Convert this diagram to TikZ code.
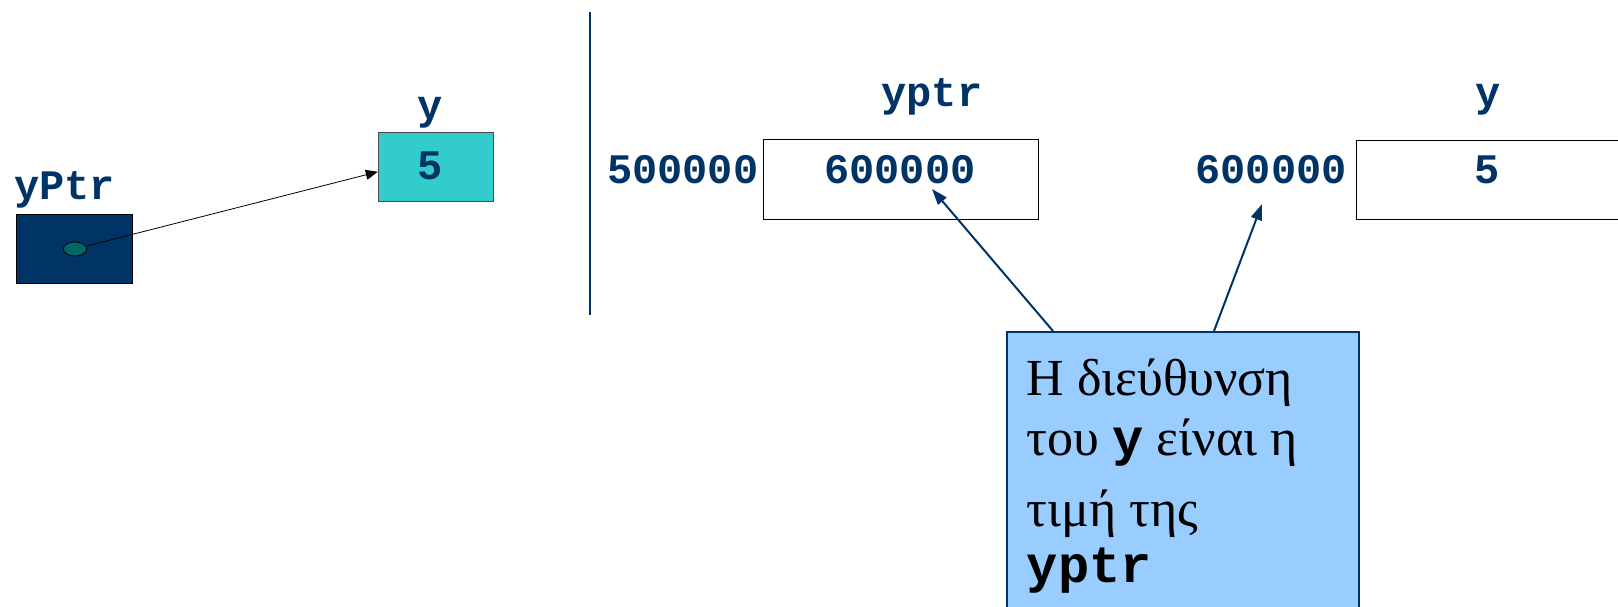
\documentclass[tikz,border=0pt]{standalone}
\usepackage{fontspec}
\setmainfont{Liberation Serif}
\setmonofont{Liberation Mono}
\usetikzlibrary{arrows.meta,shapes.geometric}
\definecolor{navy}{HTML}{003366}
\definecolor{tealdot}{HTML}{006666}
\definecolor{cyanbox}{HTML}{33CCCC}
\definecolor{callfill}{HTML}{99CCFF}
\begin{document}
\begin{tikzpicture}[x=1pt,y=-1pt,
  lab/.style={font=\fontsize{42}{50}\selectfont\ttfamily\bfseries, text=navy, inner sep=0pt},
  membox/.style={draw=black, fill=white, line width=1pt, inner sep=0pt, minimum height=79.8pt},
  navyarrow/.style={draw=navy, line width=2pt, -{Triangle[length=16pt,width=11pt]}},
  blackarrow/.style={draw=black, line width=0.8pt, -{Triangle[length=12pt,width=10pt]}}]
\clip (0,0) rectangle (1618,606);
% left part
\node[draw=black, fill=navy, line width=1pt, minimum width=116pt, minimum height=69pt, inner sep=0pt] (pbox) at (74.7,248.8) {};
\node[lab, anchor=base west] (lyPtr) at (14,199) {yPtr};
\node[draw=black!70, fill=cyanbox, line width=1pt, minimum width=115.4pt, minimum height=69pt, inner sep=0pt] (ybox) at (436,166.8) {};
\node[lab, anchor=base] (yval) at (430,179) {5};
\node[lab, anchor=base] (ylab) at (430,119) {y};
\node[draw=black, fill=tealdot, ellipse, line width=0.8pt, minimum width=23.4pt, minimum height=14pt, inner sep=0pt] (dot) at (75,249) {};
\draw[blackarrow] (dot) -- ([yshift=-5pt]ybox.west);
% divider
\coordinate (d1) at (590,12);
\coordinate (d2) at (590,315);
\draw[navy, line width=2pt] (d1) -- (d2);
% memory boxes
\node[membox, minimum width=274.5pt] (pmem) at (900.75,179.4) {};
\node[lab, anchor=base] (pval) at (900,183) {600000};
\node[lab, anchor=base east] (paddr) at (758.5,183) {500000};
\node[lab, anchor=base] (plab) at (932,106) {yptr};
\node[membox, minimum width=300pt, anchor=north west] (ymem) at (1356,139.5) {};
\node[lab, anchor=base] (ymval) at (1487,183) {5};
\node[lab, anchor=base east] (yaddr) at (1347,183) {600000};
\node[lab, anchor=base] (ymlab) at (1488,106) {y};
% callout
\node[draw=navy, fill=callfill, line width=2pt, minimum width=352pt, minimum height=320pt, anchor=north west, inner sep=0pt] (call) at (1006,331) {};
\node[anchor=north west, align=left, inner sep=0pt, font=\fontsize{52}{60}\selectfont] (ctext) at (1026.7,359)
  {Η διεύθυνση\\ του \texttt{\bfseries y} είναι η\\[11pt] τιμή της\\[-4pt] \texttt{\bfseries yptr}};
\coordinate (t1) at (932,189);
\coordinate (t2) at (1262,204);
\draw[navyarrow] ([xshift=47pt]call.north west) -- (t1);
\draw[navyarrow] ([xshift=208pt]call.north west) -- (t2);
\end{tikzpicture}
\end{document}
